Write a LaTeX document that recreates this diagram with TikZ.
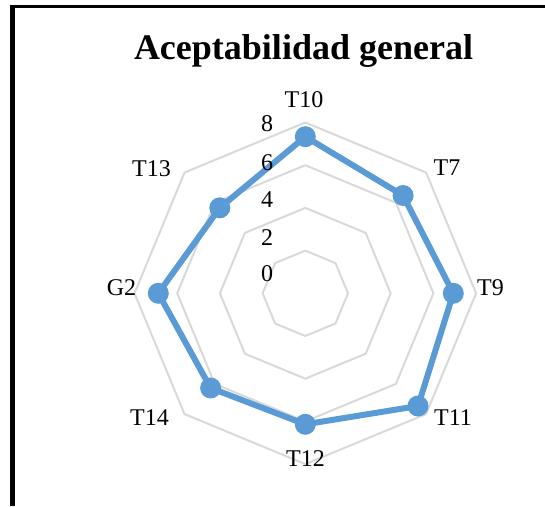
\documentclass[tikz,border=0pt]{standalone}
\usepackage{fontspec}
\setmainfont{Liberation Serif}
\begin{document}
\begin{tikzpicture}[x=1pt,y=-1pt,
  gridline/.style={draw=gridgray,line width=2pt,line join=round},
  serie/.style={draw=serieblue,line width=6pt,line join=round},
  dot/.style={circle,fill=serieblue,inner sep=0pt,minimum size=21pt},
  axlabel/.style={anchor=base,font=\fontsize{24}{24}\selectfont,inner sep=0pt},
  numlabel/.style={anchor=base,font=\fontsize{24}{24}\selectfont,inner sep=0pt},
  framebar/.style={draw=black}]
\definecolor{gridgray}{HTML}{D9D9D9}
\definecolor{serieblue}{HTML}{5B9BD5}
\useasboundingbox (0,0) rectangle (545,506);
% frame
\coordinate (fl1) at (12.5,5);
\coordinate (fl2) at (12.5,506);
\coordinate (ft1) at (10,6.5);
\coordinate (ft2) at (545,6.5);
\draw[framebar,line width=5pt] (fl1) -- (fl2);
\draw[framebar,line width=3pt] (ft1) -- (ft2);
% title
\node[anchor=base,inner sep=0pt,font=\fontsize{36}{36}\selectfont\bfseries] (title) at (303.5,59.5) {Aceptabilidad general};
\begin{scope}[shift={(305.3,293.3)},yscale=-1]
  \foreach \k in {1,2,3,4}{
    \pgfmathsetmacro{\rr}{42.7*\k}
    \draw[gridline] (90:\rr) -- (45:\rr) -- (0:\rr) -- (-45:\rr) -- (-90:\rr) -- (-135:\rr) -- (180:\rr) -- (135:\rr) -- cycle;
  }
  \coordinate (dT10) at (90:156.6);
  \coordinate (dT7) at (45:138.3);
  \coordinate (dT9) at (0:148);
  \coordinate (dT11) at (-45:159.4);
  \coordinate (dT12) at (-90:131);
  \coordinate (dT14) at (-135:133.9);
  \coordinate (dG2) at (180:147);
  \coordinate (dT13) at (135:120.9);
\end{scope}
\draw[serie] (dT10) -- (dT7) -- (dT9) -- (dT11) -- (dT12) -- (dT14) -- (dG2) -- (dT13) -- cycle;
\foreach \n in {T10,T7,T9,T11,T12,T14,G2,T13}{
  \node[dot] (p\n) at (d\n) {};
}
% axis labels
\node[axlabel] (lT10) at (304,107) {T10};
\node[axlabel] (lT7) at (447,175) {T7};
\node[axlabel] (lT9) at (490.5,295) {T9};
\node[axlabel] (lT11) at (453,425) {T11};
\node[axlabel] (lT12) at (305.5,466) {T12};
\node[axlabel] (lT14) at (149.5,425) {T14};
\node[axlabel] (lG2) at (121.5,295) {G2};
\node[axlabel] (lT13) at (151.5,176) {T13};
% value labels
\node[numlabel] (n8) at (267,131.7) {8};
\node[numlabel] (n6) at (267,170) {6};
\node[numlabel] (n4) at (267,207.3) {4};
\node[numlabel] (n2) at (267,245) {2};
\node[numlabel] (n0) at (267,281.7) {0};
\end{tikzpicture}
\end{document}
